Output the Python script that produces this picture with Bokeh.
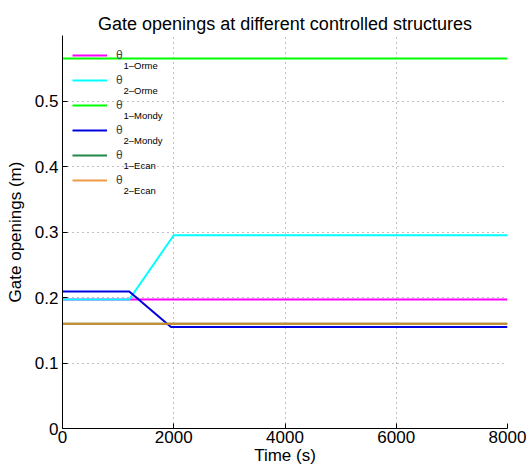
from bokeh.plotting import figure
from bokeh.models import FixedTicker, Legend, LegendItem, Label
from bokeh.embed import file_html
from bokeh.resources import INLINE

# ---- data ----
t_orme1 = [0, 8000]
orme1 = [0.197, 0.197]
t_orme2 = [0, 1200, 2000, 8000]
orme2 = [0.197, 0.197, 0.295, 0.295]
t_mondy1 = [0, 8000]
mondy1 = [0.565, 0.565]
t_mondy2 = [0, 1200, 1950, 8000]
mondy2 = [0.209, 0.209, 0.155, 0.155]
t_ecan1 = [0, 8000]
ecan1 = [0.160, 0.160]
t_ecan2 = [0, 8000]
ecan2 = [0.160, 0.160]

x_ticks = [0, 2000, 4000, 6000, 8000]
y_ticks = [0, 0.1, 0.2, 0.3, 0.4, 0.5]
y_tick_labels = ["0", "0.1", "0.2", "0.3", "0.4", "0.5"]

title_text = "Gate openings at different controlled structures"
names_sub = ["1\u2013Orme", "2\u2013Orme", "1\u2013Mondy", "2\u2013Mondy", "1\u2013Ecan", "2\u2013Ecan"]
colors = ["#ff00ff", "#00ffff", "#00ff00", "#0000e0", "#23874a", "#ee8a26"]

FONT = "Liberation Sans"
W, H = 527, 472
BL, BR, BT, BB = 62, 20, 35, 44
frame_w = W - BL - BR
frame_h = H - BT - BB

p = figure(width=W, height=H, output_backend="svg", toolbar_location=None,
           x_range=(0, 8000), y_range=(0, 0.6),
           min_border_left=BL, min_border_right=BR, min_border_top=BT, min_border_bottom=BB)
p.outline_line_color = None
p.background_fill_color = "white"
p.border_fill_color = "white"

p.title.text = title_text
p.title.align = "center"
p.title.text_font = FONT
p.title.text_font_size = "18px"
p.title.text_font_style = "normal"
p.title.text_color = "black"
p.title.vertical_align = "top"
p.title.standoff = 0
try:
    p.title.padding = (0, 0, 6, 0)
except Exception:
    pass

p.xaxis.ticker = FixedTicker(ticks=x_ticks)
p.yaxis.ticker = FixedTicker(ticks=y_ticks)
p.yaxis.major_label_overrides = {t: l for t, l in zip(y_ticks, y_tick_labels)}
for ax in (p.xaxis[0], p.yaxis[0]):
    ax.major_tick_in = 5
    ax.major_tick_out = 0
    ax.minor_tick_line_color = None
    ax.axis_line_color = "black"
    ax.major_tick_line_color = "black"
    ax.major_label_text_font = FONT
    ax.major_label_text_font_size = "17px"
    ax.major_label_text_color = "black"
    ax.axis_label_text_font = FONT
    ax.axis_label_text_font_size = "17px"
    ax.axis_label_text_font_style = "normal"
    ax.axis_label_text_color = "black"
p.xaxis.axis_label = "Time (s)"
p.yaxis.axis_label = "Gate openings (m)"
p.xaxis.major_label_standoff = 2
p.xaxis.axis_label_standoff = 0
p.yaxis.major_label_standoff = 4
p.yaxis.axis_label_standoff = 7

for g in (p.xgrid[0], p.ygrid[0]):
    g.grid_line_color = "#808080"
    g.grid_line_dash = "1 4"
    g.grid_line_width = 1

series = [(t_orme1, orme1), (t_orme2, orme2), (t_mondy1, mondy1),
          (t_mondy2, mondy2), (t_ecan1, ecan1), (t_ecan2, ecan2)]
renderers = []
for i, ((tx, vy), c) in enumerate(zip(series, colors)):
    alpha = 0.85 if i == 5 else 1.0
    r = p.line(tx, vy, line_color=c, line_width=2, line_alpha=alpha)
    renderers.append(r)

items = [LegendItem(label="\u03b8", renderers=[r]) for r in renderers]
legend = Legend(items=items, location="top_left", margin=10, padding=11,
                spacing=5, glyph_width=35, glyph_height=20, label_height=20,
                label_standoff=9, label_text_font=FONT, label_text_font_size="12px",
                border_line_color=None, background_fill_alpha=0.0)
p.add_layout(legend, "center")

# subscripts of the legend labels (screen units, relative to frame bottom-left)
for i, s in enumerate(names_sub):
    cy_top = 21 + i * 25 + 9  # from frame top
    p.add_layout(Label(x=61, y=frame_h - cy_top, x_units="screen", y_units="screen",
                       text=s, text_font=FONT, text_font_size="9.5px",
                       text_baseline="middle", text_align="left", text_color="black"))

open("out.html", "w").write(file_html(p, INLINE))
